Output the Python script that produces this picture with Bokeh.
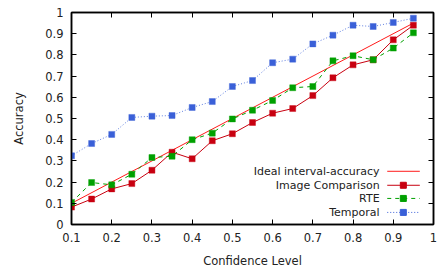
from bokeh.plotting import figure
from bokeh.models import Range1d, LinearAxis, FixedTicker, Label
from bokeh.embed import file_html
from bokeh.resources import INLINE

# ---- data ----
confidence = [0.10, 0.15, 0.20, 0.25, 0.30, 0.35, 0.40, 0.45, 0.50,
              0.55, 0.60, 0.65, 0.70, 0.75, 0.80, 0.85, 0.90, 0.95]
ideal_x = [0.10, 0.95]
ideal_y = [0.10, 0.95]
image_comparison = [0.082, 0.120, 0.168, 0.193, 0.256, 0.341, 0.310, 0.395, 0.428,
                    0.481, 0.525, 0.547, 0.608, 0.692, 0.753, 0.777, 0.871, 0.940]
rte = [0.104, 0.198, 0.187, 0.237, 0.316, 0.322, 0.400, 0.431, 0.498,
       0.539, 0.585, 0.645, 0.651, 0.772, 0.796, 0.777, 0.832, 0.904]
temporal = [0.324, 0.382, 0.425, 0.505, 0.511, 0.514, 0.552, 0.580, 0.651,
            0.679, 0.763, 0.780, 0.852, 0.893, 0.940, 0.934, 0.953, 0.973]

x_ticks = [0.1, 0.2, 0.3, 0.4, 0.5, 0.6, 0.7, 0.8, 0.9, 1.0]
x_tick_labels = ["0.1", "0.2", "0.3", "0.4", "0.5", "0.6", "0.7", "0.8", "0.9", "1"]
y_ticks = [0.0, 0.1, 0.2, 0.3, 0.4, 0.5, 0.6, 0.7, 0.8, 0.9, 1.0]
y_tick_labels = ["0", "0.1", "0.2", "0.3", "0.4", "0.5", "0.6", "0.7", "0.8", "0.9", "1"]

series_names = ["Ideal interval-accuracy", "Image Comparison", "RTE", "Temporal"]

# ---- style ----
FONT = "DejaVu Sans"
FS = "11.5px"
LEG_FS = "11px"
C_IDEAL = "#ff1a1a"
C_IMG = "#c80010"
C_RTE = "#00a000"
C_TEMP = "#3a60d8"
MS = 6

p = figure(frame_width=362, frame_height=212, output_backend="svg",
           toolbar_location=None, x_range=Range1d(0.1, 1.0), y_range=Range1d(0, 1),
           min_border_left=71, min_border_right=9, min_border_top=12, min_border_bottom=45)
p.xgrid.visible = False
p.ygrid.visible = False
p.outline_line_color = "#000000"
p.outline_line_width = 1.5
p.background_fill_color = "white"
p.border_fill_color = "white"

def style_axis(ax, ticks, labels, show_labels=True):
    ax.ticker = FixedTicker(ticks=ticks)
    if show_labels:
        ax.major_label_overrides = {t: l for t, l in zip(ticks, labels)}
    else:
        ax.major_label_overrides = {t: "" for t in ticks}
    ax.minor_tick_line_color = None
    ax.major_tick_in = 5
    ax.major_tick_out = 0
    ax.major_tick_line_color = "#000000"
    ax.major_tick_line_width = 1
    ax.axis_line_color = "#000000"
    ax.axis_line_width = 1.5
    ax.major_label_text_font = FONT
    ax.major_label_text_font_size = FS
    ax.major_label_text_color = "#222222"
    ax.axis_label_text_font = FONT
    ax.axis_label_text_font_size = FS
    ax.axis_label_text_font_style = "normal"
    ax.axis_label_text_color = "#222222"

style_axis(p.xaxis[0], x_ticks, x_tick_labels)
style_axis(p.yaxis[0], y_ticks, y_tick_labels)
p.xaxis[0].axis_label = "Confidence Level"
p.yaxis[0].axis_label = "Accuracy"
p.xaxis[0].major_label_standoff = 8
p.yaxis[0].major_label_standoff = 8
p.xaxis[0].axis_label_standoff = 9
p.yaxis[0].axis_label_standoff = 16

top = LinearAxis()
style_axis(top, x_ticks, x_tick_labels, show_labels=False)
top.major_label_standoff = 0
p.add_layout(top, "above")
right = LinearAxis()
style_axis(right, y_ticks, y_tick_labels, show_labels=False)
right.major_label_standoff = 0
p.add_layout(right, "right")

# ---- series ----
p.line(ideal_x, ideal_y, line_color=C_IDEAL, line_width=1)
p.line(confidence, image_comparison, line_color=C_IMG, line_width=1)
p.scatter(confidence, image_comparison, marker="square", size=MS,
          fill_color=C_IMG, line_color=C_IMG, line_alpha=0.4)
p.line(confidence, rte, line_color=C_RTE, line_width=1, line_dash="4 4")
p.scatter(confidence, rte, marker="square", size=MS,
          fill_color=C_RTE, line_color=C_RTE, line_alpha=0.4)
p.line(confidence, temporal, line_color=C_TEMP, line_width=1, line_dash="1 2", line_alpha=0.8)
p.scatter(confidence, temporal, marker="square", size=MS,
          fill_color=C_TEMP, line_color=C_TEMP, line_alpha=0.4)

# ---- legend (gnuplot style: text right-aligned, sample on right) ----
leg_rows = [0.251, 0.185, 0.123, 0.057]
leg_text_x = 0.866
leg_x0, leg_x1, leg_xm = 0.885, 0.966, 0.925
colors = [C_IDEAL, C_IMG, C_RTE, C_TEMP]
dashes = ["solid", "solid", "4 4", "1 2"]
markers = [False, True, True, True]
for name, yy, c, d, m in zip(series_names, leg_rows, colors, dashes, markers):
    p.add_layout(Label(x=leg_text_x, y=yy, text=name, text_align="right",
                       text_baseline="middle", text_font=FONT, text_font_size=LEG_FS,
                       text_color="#222222"))
    p.line([leg_x0, leg_x1], [yy, yy], line_color=c, line_width=1, line_dash=d)
    if m:
        p.scatter([leg_xm], [yy], marker="square", size=MS, fill_color=c, line_color=c)

open("out.html", "w").write(file_html(p, INLINE))
